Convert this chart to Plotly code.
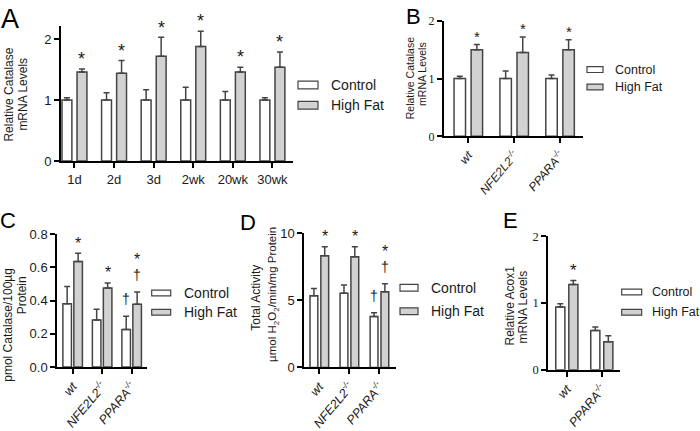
import plotly.graph_objects as go

W, H = 700, 431

# ---------------- data ----------------
# Panel A: Relative catalase mRNA, time course
a_cats = ["1d", "2d", "3d", "2wk", "20wk", "30wk"]
a_ctrl = [1.00, 1.00, 1.00, 1.00, 1.00, 1.00]
a_ctrl_err = [0.04, 0.12, 0.17, 0.21, 0.14, 0.04]
a_hf = [1.46, 1.44, 1.72, 1.88, 1.46, 1.54]
a_hf_err = [0.05, 0.21, 0.31, 0.25, 0.08, 0.25]
a_hf_star = [True, True, True, True, True, True]

# Panel B: Relative catalase mRNA by genotype
b_cats = ["wt", "NFE2L2-/-", "PPARA-/-"]
b_labels = ["<i>wt</i>", "<i>NFE2L2<sup>-/-</sup></i>", "<i>PPARA<sup>-/-</sup></i>"]
b_ctrl = [1.00, 1.00, 1.00]
b_ctrl_err = [0.04, 0.13, 0.06]
b_hf = [1.50, 1.45, 1.50]
b_hf_err = [0.09, 0.27, 0.17]
b_hf_star = [True, True, True]

# Panel C: pmol catalase / 100 ug protein
c_cats = ["wt", "NFE2L2-/-", "PPARA-/-"]
c_labels = ["<i>wt</i>", "<i>NFE2L2<sup>-/-</sup></i>", "<i>PPARA<sup>-/-</sup></i>"]
c_ctrl = [0.380, 0.283, 0.226]
c_ctrl_err = [0.104, 0.064, 0.079]
c_hf = [0.634, 0.476, 0.378]
c_hf_err = [0.050, 0.029, 0.073]
c_hf_star = [True, True, True]
c_ctrl_dagger = [False, False, True]
c_hf_dagger = [False, False, True]

# Panel D: total catalase activity
d_cats = ["wt", "NFE2L2-/-", "PPARA-/-"]
d_labels = ["<i>wt</i>", "<i>NFE2L2<sup>-/-</sup></i>", "<i>PPARA<sup>-/-</sup></i>"]
d_ctrl = [5.35, 5.52, 3.79]
d_ctrl_err = [0.53, 0.62, 0.29]
d_hf = [8.32, 8.25, 5.64]
d_hf_err = [0.67, 0.74, 0.60]
d_hf_star = [True, True, True]
d_ctrl_dagger = [False, False, True]
d_hf_dagger = [False, False, True]

# Panel E: relative Acox1 mRNA
e_cats = ["wt", "PPARA-/-"]
e_labels = ["<i>wt</i>", "<i>PPARA<sup>-/-</sup></i>"]
e_ctrl = [0.94, 0.59]
e_ctrl_err = [0.05, 0.05]
e_hf = [1.28, 0.42]
e_hf_err = [0.06, 0.09]
e_hf_star = [True, False]

series_names = ["Control", "High Fat"]

# ---------------- styling ----------------
SANS = "Liberation Sans, Arial, sans-serif"
SERIF = "Liberation Serif, Times New Roman, serif"
TXT = "#1a1a1a"
EDGE = "#444444"
CTRL_FILL = "#ffffff"
HF_FILL = "#d2d2d2"


def fx(px):
    return px / W


def fy(py):
    return 1 - py / H


panels = [
    dict(key="", cats=a_cats, labels=a_cats, ctrl=a_ctrl, ctrl_err=a_ctrl_err, hf=a_hf, hf_err=a_hf_err,
         star=a_hf_star, cdag=None, hdag=None,
         xdom=(61, 293), ydom=(20, 160), xr=(-0.34, 5.52), yr=(0, 2.21), yt=[0, 1, 2], ytext=["0", "1", "2"],
         tickfont=dict(family=SANS, size=13, color=TXT), ytickfont=dict(family=SANS, size=13, color=TXT),
         tickangle=0, bw=0.25, off=0.19, starsize=18, dagsize=14, gap=14,
         leg=dict(bx=(298, 318), rows=(81, 102), bh=8, tx=329, size=14)),
    dict(key="2", cats=b_cats, labels=b_labels, ctrl=b_ctrl, ctrl_err=b_ctrl_err, hf=b_hf, hf_err=b_hf_err,
         star=b_hf_star, cdag=None, hdag=None,
         xdom=(444, 583), ydom=(14.3, 134.3), xr=(-0.53, 2.5), yr=(0, 2), yt=[0, 1, 2], ytext=["0", "1", "2"],
         tickfont=dict(family=SANS, size=12, color=TXT), ytickfont=dict(family=SERIF, size=12, color=TXT),
         tickangle=-50, bw=0.25, off=0.186, starsize=15, dagsize=13, gap=12,
         leg=dict(bx=(587, 603), rows=(65, 83), bh=6, tx=613, size=12.5)),
    dict(key="3", cats=c_cats, labels=c_labels, ctrl=c_ctrl, ctrl_err=c_ctrl_err, hf=c_hf, hf_err=c_hf_err,
         star=c_hf_star, cdag=c_ctrl_dagger, hdag=c_hf_dagger,
         xdom=(57.3, 146.7), ydom=(235.7, 374.0), xr=(-0.52, 2.51), yr=(0, 0.8),
         yt=[0, 0.2, 0.4, 0.6, 0.8], ytext=["0.0", "0.2", "0.4", "0.6", "0.8"],
         tickfont=dict(family=SANS, size=12.5, color=TXT), ytickfont=dict(family=SANS, size=13, color=TXT),
         tickangle=-50, bw=0.29, off=0.186, starsize=16, dagsize=14, gap=14,
         leg=dict(bx=(151.7, 170.7), rows=(297, 317), bh=6, tx=181.7, size=14)),
    dict(key="4", cats=d_cats, labels=d_labels, ctrl=d_ctrl, ctrl_err=d_ctrl_err, hf=d_hf, hf_err=d_hf_err,
         star=d_hf_star, cdag=d_ctrl_dagger, hdag=d_hf_dagger,
         xdom=(304.3, 396), ydom=(235, 374.3), xr=(-0.5, 2.55), yr=(0, 10), yt=[0, 5, 10], ytext=["0", "5", "10"],
         tickfont=dict(family=SANS, size=12.5, color=TXT), ytickfont=dict(family=SANS, size=13, color=TXT),
         tickangle=-50, bw=0.26, off=0.18, starsize=16, dagsize=14, gap=14,
         leg=dict(bx=(400, 418), rows=(291.5, 316), bh=7, tx=429.3, size=14)),
    dict(key="5", cats=e_cats, labels=e_labels, ctrl=e_ctrl, ctrl_err=e_ctrl_err, hf=e_hf, hf_err=e_hf_err,
         star=e_hf_star, cdag=None, hdag=None,
         xdom=(548.3, 620), ydom=(238.3, 376.7), xr=(-0.53, 1.52), yr=(0, 2), yt=[0, 1, 2], ytext=["0", "1", "2"],
         tickfont=dict(family=SANS, size=12.5, color=TXT), ytickfont=dict(family=SERIF, size=12.5, color=TXT),
         tickangle=-50, bw=0.26, off=0.186, starsize=17, dagsize=14, gap=14,
         leg=dict(bx=(621.7, 641.7), rows=(296, 317), bh=6, tx=650, size=12.5)),
]

fig = go.Figure()
annotations = []
shapes = []
layout_axes = {}

for p in panels:
    k = p["key"]
    xname, yname = "x" + k, "y" + k
    n = len(p["cats"])
    for vals, errs, fill, name, sign in [
        (p["ctrl"], p["ctrl_err"], CTRL_FILL, series_names[0], -1),
        (p["hf"], p["hf_err"], HF_FILL, series_names[1], 1),
    ]:
        fig.add_trace(go.Bar(
            x=p["cats"], y=vals, name=name, showlegend=False,
            width=[p["bw"]] * n, offset=[sign * p["off"] - p["bw"] / 2] * n,
            marker=dict(color=fill, line=dict(color=EDGE, width=1.5)),
            error_y=dict(type="data", symmetric=False, array=errs, arrayminus=[0] * n,
                         color=EDGE, thickness=1.5, width=3),
            xaxis=xname, yaxis=yname,
        ))
    s = p["starsize"]
    ds = p["dagsize"]
    star_shift = p["gap"] - 0.24 * s
    dag_shift = 16 + 0.07 * ds
    # significance marks
    for i in range(n):
        top_h = p["hf"][i] + p["hf_err"][i]
        top_c = p["ctrl"][i] + p["ctrl_err"][i]
        extra = 0
        if p["hdag"] is not None and p["hdag"][i]:
            annotations.append(dict(x=i + p["off"], y=top_h, xref=xname, yref=yname, text="†",
                                    showarrow=False, yanchor="middle", yshift=dag_shift,
                                    font=dict(family=SANS, size=ds, color=TXT)))
            extra = 22
        if p["star"][i]:
            annotations.append(dict(x=i + p["off"], y=top_h, xref=xname, yref=yname, text="*",
                                    showarrow=False, yanchor="middle", yshift=star_shift + extra,
                                    font=dict(family=SANS, size=s, color=TXT)))
        if p["cdag"] is not None and p["cdag"][i]:
            annotations.append(dict(x=i - p["off"], y=top_c, xref=xname, yref=yname, text="†",
                                    showarrow=False, yanchor="middle", yshift=dag_shift,
                                    font=dict(family=SANS, size=ds, color=TXT)))
    # axes
    xd = (fx(p["xdom"][0]), fx(p["xdom"][1]))
    yd = (fy(p["ydom"][1]), fy(p["ydom"][0]))
    layout_axes["xaxis" + k] = dict(
        domain=list(xd), anchor=yname, type="category", range=list(p["xr"]), autorange=False,
        tickvals=p["cats"], ticktext=p["labels"], tickangle=p["tickangle"],
        showline=True, linecolor="#000", linewidth=2, ticks="outside", ticklen=5, tickwidth=2,
        tickcolor="#000", showgrid=False, zeroline=False, tickfont=p["tickfont"], fixedrange=True)
    layout_axes["yaxis" + k] = dict(
        domain=list(yd), anchor=xname, range=list(p["yr"]), autorange=False, tickvals=p["yt"], ticktext=p["ytext"],
        showline=True, linecolor="#000", linewidth=2, ticks="outside", ticklen=5, tickwidth=2,
        tickcolor="#000", showgrid=False, zeroline=False, tickfont=p["ytickfont"], fixedrange=True)
    # legend built from shapes + text
    lg = p["leg"]
    for row_y, fill, name in zip(lg["rows"], [CTRL_FILL, HF_FILL], series_names):
        shapes.append(dict(type="rect", xref="paper", yref="paper",
                           x0=fx(lg["bx"][0]), x1=fx(lg["bx"][1]),
                           y0=fy(row_y + lg["bh"] / 2), y1=fy(row_y - lg["bh"] / 2),
                           fillcolor=fill, line=dict(color=EDGE, width=1.2)))
        annotations.append(dict(x=fx(lg["tx"]), y=fy(row_y), xref="paper", yref="paper", text=name,
                                showarrow=False, xanchor="left", yanchor="middle",
                                font=dict(family=SANS, size=lg["size"], color=TXT)))

# y-axis titles (each line placed separately, rotated)
ytitles = [
    ("Relative Catalase", 9, 91, 12),
    ("mRNA Levels", 23, 91, 12),
    ("Relative Catalase", 410, 74, 10.5),
    ("mRNA Levels", 422.5, 70, 10.5),
    ("pmol Catalase/100µg", 8, 330, 12),
    ("Protein", 21.5, 300, 12),
    ("Total Activity", 256, 302, 12),
    ("µmol H<sub>2</sub>O<sub>2</sub>/min/mg Protein", 273, 299, 11.5),
    ("Relative Acox1", 510, 310, 12),
    ("mRNA Levels", 523, 312, 12),
]
for txt, x, y, sz in ytitles:
    annotations.append(dict(x=fx(x), y=fy(y), xref="paper", yref="paper", text=txt, textangle=-90,
                            showarrow=False, xanchor="center", yanchor="middle",
                            font=dict(family=SANS, size=sz, color=TXT)))

# panel letters
letters = [("A", 10, 12, 27), ("B", 413, 10, 22), ("C", 8, 222, 22), ("D", 248, 224, 22), ("E", 510, 222, 22)]
for t, x, y, sz in letters:
    annotations.append(dict(x=fx(x), y=fy(y), xref="paper", yref="paper", text=t, showarrow=False,
                            xanchor="center", yanchor="middle", font=dict(family=SANS, size=sz, color="#000")))

fig.update_layout(
    width=W, height=H, margin=dict(l=0, r=0, t=0, b=0),
    paper_bgcolor="white", plot_bgcolor="white", barmode="overlay",
    showlegend=False, annotations=annotations, shapes=shapes, **layout_axes,
)

fig.write_html(
    "out.html",
    config={"displayModeBar": False},
    post_script="document.body.style.margin='0px';document.body.style.overflow='hidden';",
)
